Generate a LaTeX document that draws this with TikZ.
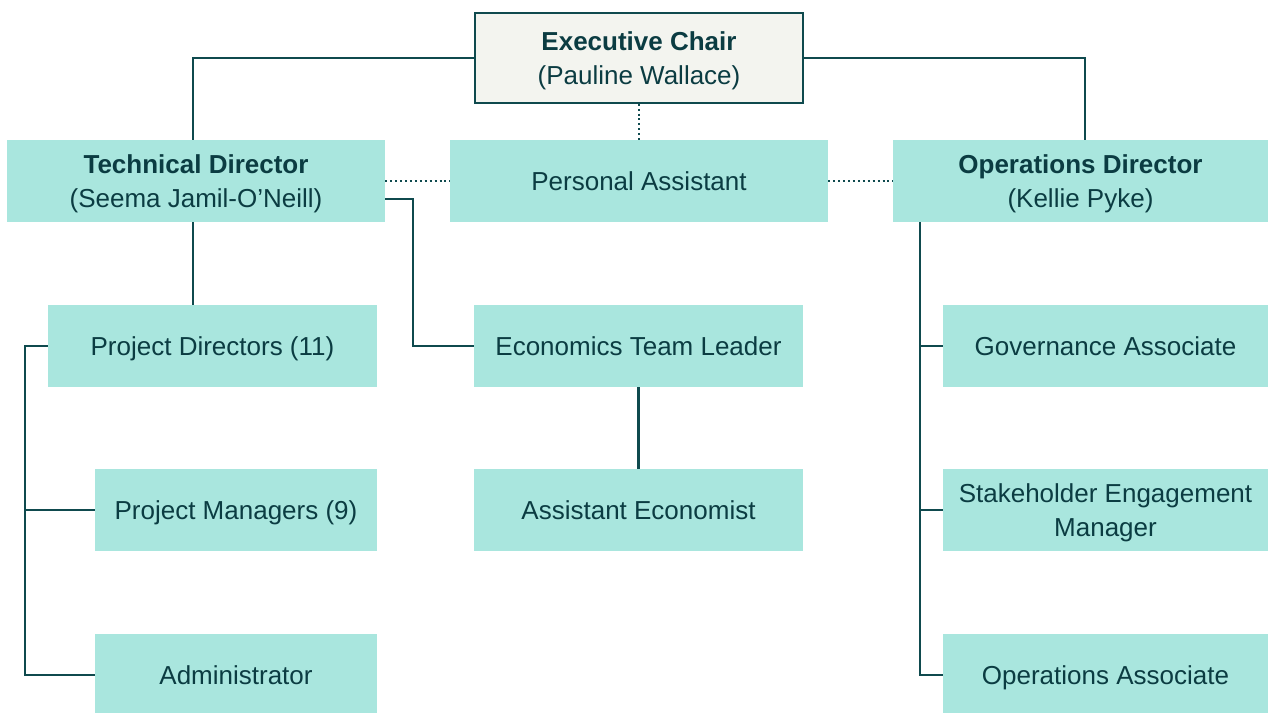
\documentclass[tikz,border=0pt]{standalone}
\usepackage{fontspec}
\setmainfont{Liberation Sans}
\usetikzlibrary{calc}
\definecolor{boxfill}{HTML}{A9E6DE}
\definecolor{chairfill}{HTML}{F3F4EF}
\definecolor{linecol}{HTML}{0F4A4E}
\definecolor{textcol}{HTML}{0B3C42}
\begin{document}
\begin{tikzpicture}[x=0.75pt,y=-0.75pt,
  box/.style={rectangle, fill=boxfill, draw=none, inner sep=0pt, align=center,
    text=textcol, font=\fontsize{19.5}{25.5}\selectfont, text depth=0pt,
    minimum height=61.5pt},
  chairbox/.style={box, fill=chairfill, draw=linecol, line width=1pt, minimum height=67.5pt},
  link/.style={draw=linecol, line width=1.8pt},
  dotlink/.style={draw=linecol, line width=1.5pt, dash pattern=on 1.5pt off 2.2pt}]
\useasboundingbox (0,0) rectangle (1268,713);

% top row
\node[chairbox, minimum width=246pt] (exec) at (639,58) {\textbf{Executive Chair}\\(Pauline Wallace)};
\node[box, minimum width=283.5pt] (tech) at (196,181) {\textbf{Technical Director}\\(Seema Jamil-O’Neill)};
\node[box, minimum width=283.5pt] (pa) at (639,181) {Personal Assistant};
\node[box, minimum width=281.25pt] (ops) at (1080.5,181) {\textbf{Operations Director}\\(Kellie Pyke)};

% technical branch
\node[box, minimum width=246.75pt] (pd) at (212.5,346) {Project Directors (11)};
\node[box, minimum width=211.5pt] (pm) at (236,510) {Project Managers (9)};
\node[box, minimum width=211.5pt] (admin) at (236,675) {Administrator};

% economics
\node[box, minimum width=246.75pt] (econ) at (638.5,346) {Economics Team Leader};
\node[box, minimum width=246.75pt] (ae) at (638.5,510) {Assistant Economist};

% operations branch
\node[box, minimum width=243.75pt] (gov) at (1105.5,346) {Governance Associate};
\node[box, minimum width=243.75pt] (stake) at (1105.5,510) {Stakeholder Engagement\\Manager};
\node[box, minimum width=243.75pt] (opsa) at (1105.5,675) {Operations Associate};

\coordinate (lbus) at (25,0);
\coordinate (rbus) at (920,0);
\coordinate (tbus) at (193,0);
\coordinate (obus) at (1085,0);

% solid reporting lines
\draw[link] (exec.west) -- (exec.west -| tbus) -- (tbus |- tech.north);
\draw[link] (exec.east) -- (exec.east -| obus) -- (obus |- ops.north);
\draw[link] (tbus |- tech.south) -- (tbus |- pd.north);
\draw[link] ([yshift=-13.5pt]tech.east) -- ++(28,0) |- (econ.west);
\draw[link] (econ.south) -- (ae.north);
\draw[link] (pd.west) -- (pd.west -| lbus) -- (admin.west -| lbus) -- (admin.west);
\draw[link] (pm.west -| lbus) -- (pm.west);
\draw[link] (ops.south -| rbus) -- (opsa.west -| rbus) -- (opsa.west);
\draw[link] (gov.west -| rbus) -- (gov.west);
\draw[link] (stake.west -| rbus) -- (stake.west);

% dotted lines to the personal assistant
\draw[dotlink] (exec.south) -- (pa.north);
\draw[dotlink] (tech.east) -- (pa.west);
\draw[dotlink] (pa.east) -- (ops.west);
\end{tikzpicture}
\end{document}
